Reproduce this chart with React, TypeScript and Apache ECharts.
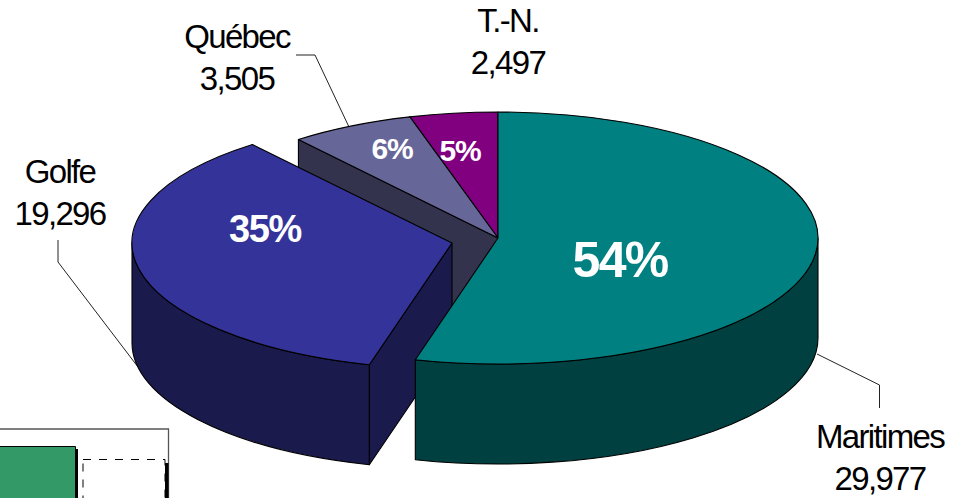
import React, { useEffect, useRef } from "react";
import * as echarts from "echarts";

const regions = ["Maritimes", "Golfe", "Québec", "T.-N."];
const landings = [29977, 19296, 3505, 2497];
const topColors = ["#008080", "#333399", "#666699", "#800080"];
const wallColors = ["#004040", "#1A1A4D", "#33334D", "#400040"];

// layout of the drawing (pixels)
const CX = 498, CY = 238, RX = 320, RY = 126, DEPTH = 100;
const explode = [[0, 0], [-46, 5], [0, 0], [0, 0]];
const pctPos = [[620, 260, 50], [265, 229, 38], [392, 148, 30], [460, 150, 30]];
const namePos = [[880, 436], [60, 171], [237, 36], [508, 20]];
const leaders = [
  [[817, 354], [879.5, 385], [879.5, 408]],
  [[58, 240], [58, 262], [138, 367]],
  [[296, 55], [315, 55], [349, 127]],
];
const FONT = '"Liberation Sans", Arial, sans-serif';
const TAU = Math.PI * 2;
const total = landings.reduce((a, b) => a + b, 0);
const fmt = (v: number) => v.toLocaleString("en-US");

// slight bend of the angles: the original is a perspective view of a circle
const project = (a: number) => a - 0.009 * Math.sin(2 * a);

function starts(i: number) {
  let s = 0;
  for (let k = 0; k < i; k++) s += landings[k];
  return [project((s / total) * TAU), project(((s + landings[i]) / total) * TAU)];
}
const pt = (a: number, ox: number, oy: number) => [ox + RX * Math.sin(a), oy - RY * Math.cos(a)];

function arc(a0: number, a1: number, ox: number, oy: number) {
  const [x, y] = pt(a1, ox, oy);
  return `A ${RX} ${RY} 0 ${a1 - a0 > Math.PI ? 1 : 0} 1 ${x} ${y} `;
}
function arcBack(a0: number, a1: number, ox: number, oy: number) {
  const [x, y] = pt(a0, ox, oy);
  return `A ${RX} ${RY} 0 ${a1 - a0 > Math.PI ? 1 : 0} 0 ${x} ${y} `;
}

const outline = { stroke: "#000", lineWidth: 1.1, lineJoin: "round" };

function sliceItem(i: number) {
  const [a0, a1] = starts(i);
  const ox = CX + explode[i][0], oy = CY + explode[i][1];
  const children: any[] = [];
  const path = (d: string, fill: string) =>
    children.push({ type: "path", shape: { pathData: d }, style: { fill, ...outline } });
  // cut wall at the start edge faces the viewer in the back half of the turn
  if (Math.sin(a0) < -1e-6) {
    const [x, y] = pt(a0, ox, oy);
    path(`M ${x} ${y} L ${ox} ${oy} L ${ox} ${oy + DEPTH} L ${x} ${y + DEPTH} Z`, wallColors[i]);
  }
  // outer wall: only the front half of the ellipse
  const w0 = Math.max(a0, Math.PI / 2), w1 = Math.min(a1, (3 * Math.PI) / 2);
  if (w1 > w0) {
    const [x0, y0] = pt(w0, ox, oy);
    const [x1, y1] = pt(w1, ox, oy + DEPTH);
    path(
      `M ${x0} ${y0} ` + arc(w0, w1, ox, oy) + `L ${x1} ${y1} ` + arcBack(w0, w1, ox, oy + DEPTH) + "Z",
      wallColors[i]
    );
  }
  const [sx, sy] = pt(a0, ox, oy);
  path(`M ${ox} ${oy} L ${sx} ${sy} ` + arc(a0, a1, ox, oy) + "Z", topColors[i]);
  return { type: "group", children };
}

function label(text: string, x: number, y: number, size: number, fill: string, bold: boolean, lh?: number) {
  return {
    type: "text",
    x,
    y,
    style: {
      text,
      fill,
      font: `${bold ? "bold " : ""}${size}px ${FONT}`,
      align: "center",
      verticalAlign: lh ? "top" : "middle",
      textAlign: "center",
      textVerticalAlign: lh ? "top" : "middle",
      lineHeight: lh,
    },
  };
}

export default function App() {
  const ref = useRef<HTMLDivElement>(null);
  useEffect(() => {
    document.body.style.margin = "0";
    const chart = echarts.init(ref.current!, null, { renderer: "svg" });
    const drawOrder = [3, 2, 1, 0];
    const graphicEls: any[] = [
      ...leaders.map((pts) => ({
        type: "polyline",
        z: 0,
        shape: { points: pts },
        style: { stroke: "#222", lineWidth: 1, fill: "none" },
      })),
      ...regions.map((n, i) => ({
        ...label(`${n}\n${fmt(landings[i])}`, namePos[i][0], namePos[i][1] - 21, 33, "#000", false, 42),
        z: 0,
      })),
      // cropped legend box at the lower-left corner
      { type: "polyline", shape: { points: [[0, 429], [168.5, 429], [168.5, 498]] }, style: { stroke: "#555", lineWidth: 1.3, fill: "none" } },
      { type: "rect", shape: { x: 0, y: 449, width: 78, height: 49 }, style: { fill: "#000" } },
      { type: "rect", shape: { x: -2, y: 446.5, width: 77.5, height: 60 }, style: { fill: "#339966", stroke: "#000", lineWidth: 1 } },
      { type: "rect", shape: { x: 165, y: 463, width: 3.5, height: 35 }, style: { fill: "#000" } },
      { type: "rect", shape: { x: 83, y: 459.5, width: 82, height: 60 }, style: { fill: "#fff", stroke: "#000", lineWidth: 1, lineDash: [8, 8] } },
    ];
    chart.setOption({
      animation: false,
      backgroundColor: "#fff",
      graphic: { elements: graphicEls },
      series: [
        {
          type: "custom",
          coordinateSystem: "none",
          silent: true,
          z: 2,
          data: drawOrder.map((i) => [i, landings[i]]),
          renderItem: (_: any, api: any) => sliceItem(api.value(0)),
        },
        {
          type: "custom",
          coordinateSystem: "none",
          silent: true,
          z: 3,
          data: drawOrder.map((i) => [i, landings[i]]),
          renderItem: (_: any, api: any) => {
            const i = api.value(0);
            const p = pctPos[i];
            return label(`${Math.round((api.value(1) / total) * 100)}%`, p[0], p[1], p[2], "#fff", true);
          },
        },
      ],
    });
    return () => chart.dispose();
  }, []);
  return (
    <>
      <style>{`svg text { letter-spacing: -0.05em; } svg text[style*="bold"] { letter-spacing: -0.035em; }`}</style>
      <div ref={ref} style={{ width: 961, height: 498, position: "absolute", left: 0, top: 0 }} />
    </>
  );
}
